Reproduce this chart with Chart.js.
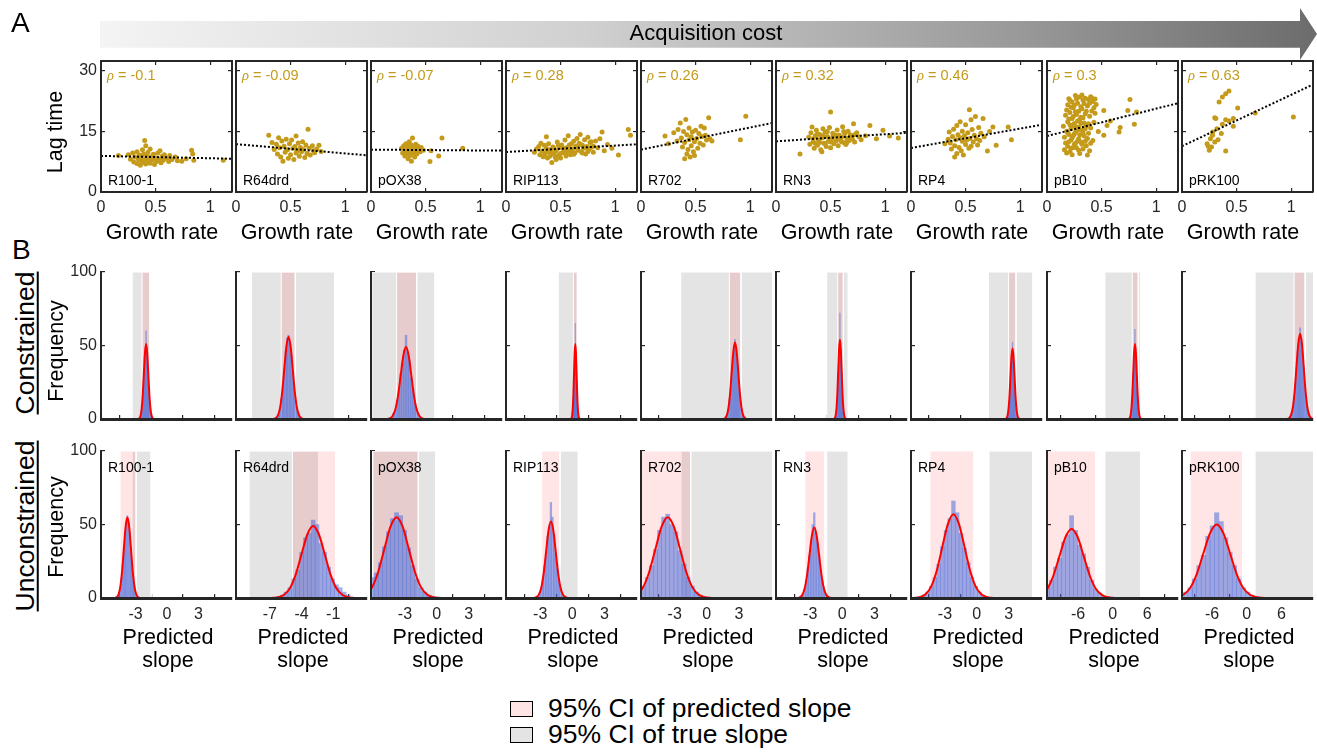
<!DOCTYPE html>
<html><head><meta charset="utf-8">
<script src="https://cdn.jsdelivr.net/npm/chart.js@4.4.1/dist/chart.umd.min.js"></script>
<style>
html,body{margin:0;padding:0;background:#fff;}
#fig{position:relative;width:1317px;height:754px;overflow:hidden;font-family:"Liberation Sans",Arial,sans-serif;color:#000;}
#fig canvas{position:absolute;}
.t{position:absolute;white-space:nowrap;}
</style></head><body><div id="fig"></div>
<script>
// ================= DATA =================
const plasmids = ['R100-1','R64drd','pOX38','RIP113','R702','RN3','RP4','pB10','pRK100'];
const rho = [-0.1,-0.09,-0.07,0.28,0.26,0.32,0.46,0.3,0.63];
const growthMin = 0, growthMax = 1.2;
const lagMin = 0, lagMax = 32.3;
const growthTicks = [0,0.5,1];
const lagTicks = [0,15,30];
const freqTicks = [0,50,100];
const freqMax = 100;
// regression line: lag time at growth rate 0 and at 1.2
const fitStart = [8.9,11.8,10.45,9.86,10.45,12.5,10.85,13.8,11.3];
const fitEnd   = [8.2,9.05,10.2,11.76,17.0,14.6,16.6,21.9,26.5];

const ptsR100_1 = [[0.16,9.0],[0.25,9.2],[0.27,8.1],[0.29,9.6],[0.30,7.4],[0.31,8.6],[0.33,9.9],[0.33,7.0],[0.34,8.2],[0.35,9.1],[0.36,6.6],[0.36,7.8],[0.37,8.7],[0.38,10.4],[0.38,7.3],[0.39,9.4],[0.40,12.7],[0.40,8.0],[0.41,6.9],[0.41,11.4],[0.42,8.9],[0.43,7.6],[0.43,9.8],[0.44,8.3],[0.45,7.1],[0.45,10.6],[0.46,8.7],[0.47,7.9],[0.48,9.3],[0.49,6.8],[0.50,8.4],[0.51,7.5],[0.52,9.6],[0.53,8.1],[0.54,10.2],[0.55,7.2],[0.56,8.8],[0.57,7.8],[0.58,9.2],[0.60,8.3],[0.62,7.5],[0.63,9.0],[0.65,8.0],[0.68,8.6],[0.70,7.7],[0.74,7.6],[0.78,8.2],[0.83,10.3],[0.84,9.4],[0.85,7.8],[1.12,7.8]];
const ptsR64drd = [[0.30,14.0],[0.33,12.2],[0.35,10.5],[0.37,11.8],[0.38,9.4],[0.39,13.4],[0.40,10.9],[0.41,8.6],[0.42,12.6],[0.43,7.6],[0.44,11.3],[0.45,9.8],[0.46,13.0],[0.47,10.4],[0.48,8.3],[0.49,11.9],[0.50,9.2],[0.51,12.8],[0.52,10.7],[0.53,8.0],[0.54,11.2],[0.55,13.8],[0.55,9.6],[0.56,10.1],[0.57,12.1],[0.58,8.8],[0.59,11.0],[0.60,9.9],[0.61,12.4],[0.62,10.5],[0.63,8.5],[0.64,11.6],[0.65,9.5],[0.66,15.5],[0.67,10.8],[0.68,9.1],[0.70,11.4],[0.71,10.2],[0.72,9.7],[0.74,10.6],[0.76,11.5],[0.78,10.0]];
const ptsPOX38 = [[0.28,10.8],[0.29,9.6],[0.30,11.4],[0.31,10.2],[0.31,8.9],[0.32,11.9],[0.33,10.6],[0.33,9.3],[0.34,11.2],[0.34,8.2],[0.35,10.0],[0.35,12.4],[0.36,10.9],[0.36,9.0],[0.37,11.6],[0.37,7.6],[0.38,10.4],[0.38,13.3],[0.39,9.7],[0.39,11.1],[0.40,10.7],[0.40,8.6],[0.41,11.8],[0.42,10.1],[0.42,9.4],[0.43,11.3],[0.44,10.5],[0.45,9.9],[0.46,11.0],[0.48,10.3],[0.54,7.5],[0.55,10.2],[0.62,8.9],[0.65,13.3],[0.84,10.8]];
const ptsRIP113 = [[0.26,9.8],[0.28,10.6],[0.30,11.2],[0.31,9.2],[0.32,12.0],[0.33,10.1],[0.34,8.7],[0.35,11.5],[0.36,9.6],[0.37,13.6],[0.37,10.8],[0.38,8.4],[0.39,11.9],[0.40,9.9],[0.41,10.5],[0.42,7.3],[0.43,11.1],[0.44,9.3],[0.45,8.6],[0.46,10.2],[0.47,12.3],[0.48,9.0],[0.49,10.9],[0.50,8.4],[0.51,11.6],[0.52,9.7],[0.53,10.4],[0.54,12.8],[0.55,8.9],[0.56,11.0],[0.57,13.9],[0.58,10.0],[0.59,9.2],[0.60,11.9],[0.61,10.6],[0.62,12.5],[0.63,9.6],[0.64,11.3],[0.65,13.2],[0.66,10.3],[0.67,12.0],[0.68,14.2],[0.69,9.9],[0.70,11.5],[0.71,10.8],[0.72,12.9],[0.73,9.4],[0.74,11.2],[0.75,13.5],[0.76,10.5],[0.77,12.2],[0.78,11.0],[0.80,9.8],[0.82,12.6],[0.84,10.9],[0.86,13.1],[0.88,14.8],[0.90,10.2],[0.93,11.7],[0.97,10.8],[1.03,9.1],[1.12,15.4],[1.14,14.0],[0.35,9.0],[0.38,10.0],[0.40,8.8],[0.42,9.6],[0.44,10.8],[0.46,8.0],[0.48,11.5],[0.50,9.5],[0.52,10.9],[0.55,9.8],[0.58,11.6],[0.60,10.1],[0.62,9.3],[0.65,10.9],[0.68,11.8],[0.70,9.6],[0.72,11.0],[0.75,10.0],[0.78,12.4],[0.80,11.3]];
const ptsR702 = [[0.22,13.8],[0.25,11.9],[0.30,14.6],[0.33,12.6],[0.34,15.4],[0.36,17.0],[0.37,13.3],[0.38,11.1],[0.39,14.9],[0.40,8.2],[0.40,12.2],[0.41,17.9],[0.42,9.4],[0.42,14.1],[0.43,10.5],[0.44,12.9],[0.44,15.8],[0.45,8.6],[0.46,13.6],[0.46,11.4],[0.47,14.8],[0.48,9.9],[0.49,9.0],[0.49,12.4],[0.50,15.2],[0.51,13.2],[0.52,10.8],[0.53,14.4],[0.54,12.0],[0.55,16.2],[0.56,13.7],[0.57,11.6],[0.58,15.8],[0.59,14.0],[0.60,12.8],[0.62,18.3],[0.63,13.1],[0.65,12.6],[0.91,12.9],[0.96,18.7]];
const ptsRN3 = [[0.22,9.4],[0.30,13.5],[0.31,11.8],[0.32,14.6],[0.33,16.0],[0.34,12.4],[0.35,10.8],[0.36,13.9],[0.37,15.2],[0.38,11.5],[0.39,12.9],[0.40,14.2],[0.41,10.4],[0.42,9.9],[0.42,13.3],[0.43,15.6],[0.44,12.0],[0.45,14.8],[0.46,11.2],[0.47,13.7],[0.48,12.5],[0.49,15.9],[0.50,19.7],[0.50,10.9],[0.51,13.0],[0.52,14.5],[0.53,11.9],[0.54,13.8],[0.55,12.6],[0.56,15.3],[0.57,11.4],[0.58,14.0],[0.59,12.8],[0.60,13.5],[0.61,16.1],[0.62,12.2],[0.63,14.4],[0.64,11.7],[0.65,13.2],[0.66,15.0],[0.67,12.7],[0.68,14.1],[0.70,13.0],[0.71,16.8],[0.72,12.3],[0.74,14.6],[0.76,13.6],[0.78,12.9],[0.82,13.9],[0.86,16.4],[0.92,13.1],[0.98,15.2],[1.04,13.8],[1.12,13.3],[0.34,13.1],[0.36,12.0],[0.38,14.3],[0.40,12.2],[0.43,13.9],[0.45,11.9],[0.47,14.9],[0.50,12.3],[0.52,13.6],[0.55,14.0],[0.57,13.1],[0.60,12.4],[0.62,14.9],[0.65,12.2],[0.68,13.4],[0.72,14.1]];
const ptsRP4 = [[0.31,11.9],[0.34,13.0],[0.35,14.8],[0.36,12.1],[0.37,10.6],[0.38,13.7],[0.39,15.5],[0.40,8.6],[0.40,11.4],[0.41,12.9],[0.42,16.4],[0.42,9.5],[0.43,14.1],[0.44,11.0],[0.45,13.4],[0.45,17.3],[0.46,10.2],[0.47,12.5],[0.47,15.0],[0.48,9.1],[0.49,13.9],[0.50,11.7],[0.50,16.6],[0.51,12.8],[0.52,14.6],[0.53,10.8],[0.535,20.3],[0.54,13.2],[0.55,17.8],[0.55,11.3],[0.56,15.4],[0.57,12.3],[0.58,14.0],[0.59,18.6],[0.60,13.1],[0.61,11.6],[0.62,15.9],[0.63,12.7],[0.64,14.5],[0.66,18.1],[0.67,13.6],[0.70,10.1],[0.72,14.9],[0.75,16.0],[0.78,11.5],[0.89,16.0],[0.92,12.9]];
const ptsPB10 = [[0.15,16.2],[0.16,13.5],[0.16,10.4],[0.17,18.9],[0.17,12.1],[0.18,15.0],[0.18,9.6],[0.19,21.5],[0.19,17.3],[0.19,11.3],[0.20,14.2],[0.20,23.0],[0.21,16.6],[0.21,10.0],[0.21,19.6],[0.22,12.8],[0.22,15.6],[0.23,22.2],[0.23,18.1],[0.23,9.2],[0.24,13.9],[0.24,20.8],[0.25,16.9],[0.25,11.7],[0.26,23.8],[0.26,14.7],[0.27,19.1],[0.27,10.9],[0.28,17.5],[0.28,21.9],[0.29,13.1],[0.29,15.9],[0.30,23.4],[0.30,9.5],[0.31,18.4],[0.31,12.3],[0.32,20.5],[0.32,15.2],[0.33,22.6],[0.33,10.6],[0.34,17.0],[0.34,13.8],[0.35,23.1],[0.35,19.3],[0.36,11.4],[0.36,16.3],[0.37,21.2],[0.37,9.1],[0.38,14.5],[0.38,22.8],[0.39,18.7],[0.39,10.2],[0.40,23.5],[0.40,15.8],[0.41,20.0],[0.42,12.7],[0.42,22.3],[0.43,17.2],[0.44,19.4],[0.45,21.6],[0.47,14.9],[0.52,14.0],[0.52,20.1],[0.55,16.4],[0.58,17.5],[0.66,14.8],[0.67,15.9],[0.74,20.1],[0.76,22.8],[0.80,16.7],[0.82,19.7],[0.18,20.2],[0.19,14.6],[0.20,12.4],[0.20,18.0],[0.21,22.6],[0.22,10.8],[0.22,20.9],[0.23,13.4],[0.23,16.2],[0.24,18.6],[0.24,11.0],[0.25,21.4],[0.25,14.3],[0.26,19.8],[0.26,12.0],[0.27,16.0],[0.27,22.9],[0.28,12.6],[0.28,15.2],[0.29,19.9],[0.29,10.3],[0.30,17.8],[0.30,14.1],[0.31,21.0],[0.31,16.9],[0.32,11.8],[0.32,23.9],[0.33,14.7],[0.33,18.3],[0.34,21.8],[0.35,12.5],[0.35,15.6],[0.36,19.9],[0.37,13.2],[0.38,16.8],[0.39,21.9],[0.40,12.0],[0.41,23.2],[0.43,20.8],[0.44,22.9]];
const ptsPRK100 = [[0.43,24.9],[0.40,24.2],[0.37,23.4],[0.34,22.2],[0.31,18.1],[0.30,18.3],[0.51,20.7],[0.47,18.1],[0.40,17.8],[0.37,16.7],[0.47,16.2],[0.28,14.8],[0.36,14.4],[0.23,11.9],[0.30,12.3],[0.25,10.3],[0.27,11.1],[0.40,10.1],[0.67,19.5],[1.02,18.5],[0.43,17.5],[0.32,15.6],[0.28,14.0],[0.26,13.1],[0.33,12.9],[0.24,11.3]];
const scatterSets = [ptsR100_1,ptsR64drd,ptsPOX38,ptsRIP113,ptsR702,ptsRN3,ptsRP4,ptsPB10,ptsPRK100];

// predicted-slope axes
const slopeMin = [-6.3,-10.2,-6.2,-6.2,-6.15,-6.2,-6.2,-11.4,-11.2];
const slopeMax = [6.2,2.2,6.15,6.05,6.1,6.05,6.15,11.35,11.45];
const slopeTicks = [[-3,0,3],[-7,-4,-1],[-3,0,3],[-3,0,3],[-3,0,3],[-3,0,3],[-3,0,3],[-6,0,6],[-6,0,6]];

// 95% CIs
const trueCIcon = [[-3.33,-1.62],[-8.73,-0.85],[-6.12,-0.16],[-1.31,0.50],[-2.43,6.4],[-1.46,0.56],[1.10,5.30],[-1.34,4.87],[1.44,11.7]];
const predCIcon = [[-2.38,-1.62],[-5.92,-4.59],[-3.79,-1.89],[0.10,0.47],[2.11,3.20],[-0.43,0.10],[3.00,3.70],[3.41,4.45],[8.18,10.09]];
const trueCIunc = [[-3.33,-1.52],[-8.96,-2.37],[-6.03,-0.10],[-1.15,0.56],[-2.40,6.4],[-1.46,0.56],[1.16,5.27],[-1.34,4.87],[1.44,11.7]];
const predCIunc = [[-4.48,-2.95],[-4.86,-0.76],[-6.03,-1.74],[-2.87,-1.15],[-6.4,-1.50],[-3.50,-1.62],[-4.42,-0.26],[-11.6,-2.90],[-9.80,-0.70]];

// constrained histograms (first bin centre, bin width, counts)
const histStartCon = [-2.63,-6.43,-4.40,-0.08,1.71,-0.70,2.80,2.95,7.33];
const histBinCon = [0.07,0.133,0.167,0.04,0.103,0.053,0.063,0.103,0.21];
const cntConR100_1 = [0,1,3,7,13,20,32,42,47,60,49,40,30,22,12,7,3,1,0];
const cntConR64drd = [1,2,3,8,14,22,35,46,55,57,52,44,33,24,13,8,4,2,1];
const cntConPOX38 = [1,1,4,6,13,19,31,38,47,57,45,40,28,21,11,7,3,1,0];
const cntConRIP113 = [0,1,3,7,12,21,30,42,50,65,47,40,31,20,13,6,3,2,0];
const cntConR702 = [0,2,3,7,14,21,30,43,50,54,49,41,32,20,13,7,3,1,1];
const cntConRN3 = [1,1,4,7,13,22,33,43,51,72,50,44,32,23,13,7,3,2,0];
const cntConRP4 = [0,1,3,6,12,20,29,38,46,52,45,39,29,19,12,7,3,1,0];
const cntConPB10 = [1,2,3,7,12,21,31,40,47,61,48,41,30,22,12,7,4,1,0];
const cntConPRK100 = [1,2,4,8,14,24,35,46,55,62,54,46,36,23,15,8,4,2,1];
const countsCon = [cntConR100_1,cntConR64drd,cntConPOX38,cntConRIP113,cntConR702,cntConRN3,cntConRP4,cntConPB10,cntConPRK100];

// constrained fitted curves (first x, x step, frequency values)
const curveStartCon = [-2.735,-6.63,-4.65,-0.14,1.555,-0.78,2.705,2.795,7.015];
const curveStepCon = [0.105,0.2,0.25,0.06,0.155,0.08,0.095,0.155,0.315];
const crvConR100_1 = [0.1,0.6,2.2,6.9,16.6,31,45,51,45,31,16.6,6.9,2.2,0.6,0.1];
const crvConR64drd = [0.1,0.6,2.5,7.6,18.2,34,49.4,56,49.4,34,18.2,7.6,2.5,0.6,0.1];
const crvConPOX38 = [0.1,0.5,2.2,6.6,15.9,29.7,43.2,49,43.2,29.7,15.9,6.6,2.2,0.5,0.1];
const crvConRIP113 = [0.1,0.6,2.2,6.9,16.6,31,45,51,45,31,16.6,6.9,2.2,0.6,0.1];
const crvConR702 = [0.1,0.6,2.3,7,16.9,31.6,45.9,52,45.9,31.6,16.9,7,2.3,0.6,0.1];
const crvConRN3 = [0.1,0.6,2.4,7.3,17.6,32.8,47.6,54,47.6,32.8,17.6,7.3,2.4,0.6,0.1];
const crvConRP4 = [0.1,0.5,2.1,6.5,15.6,29.1,42.3,48,42.3,29.1,15.6,6.5,2.1,0.5,0.1];
const crvConPB10 = [0.1,0.6,2.2,6.9,16.6,31,45,51,45,31,16.6,6.9,2.2,0.6,0.1];
const crvConPRK100 = [0.1,0.6,2.6,7.8,18.9,35.2,51.2,58,51.2,35.2,18.9,7.8,2.6,0.6,0.1];
const curvesCon = [crvConR100_1,crvConR64drd,crvConPOX38,crvConRIP113,crvConR702,crvConRN3,crvConRP4,crvConPB10,crvConPRK100];

// unconstrained histograms
const histStartUnc = [-4.80,-6.20,-6.09,-3.35,-5.95,-3.97,-5.35,-11.33,-10.57];
const histBinUnc = [0.113,0.367,0.383,0.15,0.383,0.15,0.35,0.7,0.767];
const cntUncR100_1 = [1,2,4,7,14,23,33,44,52,56,51,45,34,22,13,8,3,2,0];
const cntUncR64drd = [1,2,4,7,13,19,31,41,44,53,50,37,31,21,13,9,7,4,2];
const cntUncPOX38 = [14,17,24,35,45,54,58,56,46,34,22,13,7,4,2,1];
const cntUncRIP113 = [0,1,3,7,13,22,31,42,49,65,55,43,30,20,13,7,3,1,1];
const cntUncR702 = [8,14,22,33,46,55,57,50,45,32,23,14,8,4,2,1];
const cntUncRN3 = [0,1,3,6,12,20,29,39,50,58,44,38,29,19,12,7,3,2,1];
const cntUncRP4 = [1,2,4,8,14,23,35,46,54,66,58,44,34,24,14,8,4,2,1];
const cntUncPB10 = [7,12,21,27,38,43,56,46,36,30,21,12,6,3,1,1];
const cntUncPRK100 = [4,7,13,22,29,42,49,58,52,41,31,22,13,7,4,2,1];
const countsUnc = [cntUncR100_1,cntUncR64drd,cntUncPOX38,cntUncRIP113,cntUncR702,cntUncRN3,cntUncRP4,cntUncPB10,cntUncPRK100];

// unconstrained fitted curves
const curveStartUnc = [-4.97,-6.75,-7.815,-3.575,-7.675,-4.195,-5.875,-14.48,-13.25];
const curveStepUnc = [0.17,0.55,0.575,0.225,0.575,0.225,0.525,1.05,1.15];
const crvUncR100_1 = [0.1,0.6,2.4,7.4,17.9,33.4,48.5,55,48.5,33.4,17.9,7.4,2.4,0.6,0.1];
const crvUncR64drd = [0.1,0.5,2.2,6.6,15.9,29.7,43.2,49,43.2,29.7,15.9,6.6,2.2,0.5,0.1];
const crvUncPOX38 = [0.1,0.6,2.4,7.4,17.9,33.4,48.5,55,48.5,33.4,17.9,7.4,2.4,0.6,0.1];
const crvUncRIP113 = [0.1,0.6,2.3,7,16.9,31.6,45.9,52,45.9,31.6,16.9,7,2.3,0.6,0.1];
const crvUncR702 = [0.1,0.6,2.4,7.4,17.9,33.4,48.5,55,48.5,33.4,17.9,7.4,2.4,0.6,0.1];
const crvUncRN3 = [0.1,0.5,2.1,6.5,15.6,29.1,42.3,48,42.3,29.1,15.6,6.5,2.1,0.5,0.1];
const crvUncRP4 = [0.1,0.6,2.5,7.7,18.5,34.6,50.3,57,50.3,34.6,18.5,7.7,2.5,0.6,0.1];
const crvUncPB10 = [0.1,0.5,2.1,6.3,15.3,28.5,41.5,47,41.5,28.5,15.3,6.3,2.1,0.5,0.1];
const crvUncPRK100 = [0.1,0.6,2.2,6.8,16.3,30.4,44.1,50,44.1,30.4,16.3,6.8,2.2,0.6,0.1];
const curvesUnc = [crvUncR100_1,crvUncR64drd,crvUncPOX38,crvUncRIP113,crvUncR702,crvUncRN3,crvUncRP4,crvUncPB10,crvUncPRK100];

// ================= LAYOUT / STYLE =================
const colLeft = [101,236,371,506,641,776,911,1047,1182];
const PW = 131;
const TOP_Y = 61, TOP_H = 131;
const CON_Y = 272, UNC_Y = 451, HIST_H = 147;
const ML = 44, MR = 6, MT = 12, MB = 32, MB_MID = 6;
const INK = '#262626';
const GOLD = '#c49a1a';
const BLUE = 'rgba(60,100,220,0.5)';
const PINK = 'rgba(255,0,0,0.1)';
const GRAY = '#e4e4e4';
const FONT = '"Liberation Sans", Arial, Helvetica, sans-serif';
Chart.defaults.font.family = FONT;

const fig = document.getElementById('fig');
function makeCanvas(left, top, w, h) {
  const c = document.createElement('canvas');
  c.width = w; c.height = h;
  c.style.left = left + 'px'; c.style.top = top + 'px';
  c.style.width = w + 'px'; c.style.height = h + 'px';
  fig.appendChild(c);
  return c;
}
function fixedTicks(vals) { return s => { s.ticks = vals.map(v => ({value: v})); }; }
function fitSize(prop, val) {
  return s => { s[prop] = val; s.paddingLeft = 0; s.paddingRight = 0; s.paddingTop = 0; s.paddingBottom = 0; };
}
function gridIn(len) {
  return {display: true, drawOnChartArea: false, drawTicks: true, tickLength: -len, color: INK, lineWidth: 1.2};
}
function borderCfg(w) { return {display: true, color: INK, width: w, z: 1}; }
const tickFont = {family: FONT, size: 16};
const baseOpts = {
  responsive: false, animation: false, devicePixelRatio: 1, events: [],
  plugins: {legend: {display: false}, tooltip: {enabled: false}}
};

// ---------- Row A: scatter panels ----------
function topPanel(i) {
  const L = colLeft[i];
  const c = makeCanvas(L - ML, TOP_Y - MT, ML + PW + MR, MT + TOP_H + MB);
  new Chart(c, {
    type: 'scatter',
    data: {datasets: [
      {type: 'line', data: [{x: growthMin, y: fitStart[i]}, {x: growthMax, y: fitEnd[i]}],
       borderColor: '#000', borderWidth: 2, borderDash: [2, 2], pointRadius: 0, order: 0},
      {type: 'scatter', data: scatterSets[i].map(p => ({x: p[0], y: p[1]})),
       backgroundColor: GOLD, borderWidth: 0, pointRadius: 2.5, order: 1}
    ]},
    options: Object.assign({}, baseOpts, {
      layout: {padding: 0},
      scales: {
        x: {type: 'linear', position: 'bottom', min: growthMin, max: growthMax,
            afterBuildTicks: fixedTicks(growthTicks), afterFit: fitSize('height', MB),
            grid: gridIn(4), border: borderCfg(2),
            ticks: {font: tickFont, color: INK, padding: 10, maxRotation: 0, autoSkip: false, callback: v => String(v)}},
        x2: {type: 'linear', position: 'top', min: growthMin, max: growthMax,
            afterBuildTicks: fixedTicks(growthTicks), afterFit: fitSize('height', MT),
            grid: gridIn(4), border: borderCfg(2), ticks: {display: false}},
        y: {type: 'linear', position: 'left', min: lagMin, max: lagMax,
            afterBuildTicks: fixedTicks(lagTicks), afterFit: fitSize('width', ML),
            grid: gridIn(4), border: borderCfg(2),
            ticks: {display: i === 0, font: tickFont, color: INK, padding: 8, callback: v => String(v)}},
        y2: {type: 'linear', position: 'right', min: lagMin, max: lagMax,
            afterBuildTicks: fixedTicks(lagTicks), afterFit: fitSize('width', MR),
            grid: gridIn(4), border: borderCfg(2), ticks: {display: false}}
      }
    })
  });
}

// ---------- Row B: histogram panels ----------
function histData(start, bin, counts) { return counts.map((v, k) => ({x: start + k * bin, y: v})); }
function curveData(start, step, ys) { return ys.map((v, k) => ({x: start + k * step, y: v})); }
function boxData(ci) { return [{x: ci[0], y: 0}, {x: ci[0], y: freqMax}, {x: ci[1], y: freqMax}, {x: ci[1], y: 0}]; }

function histPanel(i, unc) {
  const L = colLeft[i];
  const top = unc ? UNC_Y : CON_Y;
  const mb = unc ? MB : MB_MID;
  const c = makeCanvas(L - ML, top - MT, ML + PW + MR, MT + HIST_H + mb);
  const tci = unc ? trueCIunc[i] : trueCIcon[i];
  const pci = unc ? predCIunc[i] : predCIcon[i];
  const hd = unc ? histData(histStartUnc[i], histBinUnc[i], countsUnc[i]) : histData(histStartCon[i], histBinCon[i], countsCon[i]);
  const cd = unc ? curveData(curveStartUnc[i], curveStepUnc[i], curvesUnc[i]) : curveData(curveStartCon[i], curveStepCon[i], curvesCon[i]);
  new Chart(c, {
    type: 'bar',
    data: {datasets: [
      {type: 'line', data: cd, borderColor: '#ff0000', borderWidth: 2, pointRadius: 0,
       cubicInterpolationMode: 'monotone', fill: false, order: 0},
      {type: 'bar', data: hd, backgroundColor: BLUE, borderWidth: 0,
       barPercentage: 1, categoryPercentage: 1, grouped: false, order: 1},
      {type: 'line', data: boxData(pci), fill: 'origin', backgroundColor: PINK,
       borderColor: '#ffffff', borderWidth: 1, pointRadius: 0, order: 2},
      {type: 'line', data: boxData(tci), fill: 'origin', backgroundColor: GRAY,
       borderColor: '#ffffff', borderWidth: 1, pointRadius: 0, order: 3}
    ]},
    options: Object.assign({}, baseOpts, {
      layout: {padding: {top: MT, right: MR, left: 0, bottom: 0}},
      scales: {
        x: {type: 'linear', position: 'bottom', offset: false, min: slopeMin[i], max: slopeMax[i],
            afterBuildTicks: fixedTicks(slopeTicks[i]), afterFit: fitSize('height', mb),
            grid: gridIn(4), border: borderCfg(3),
            ticks: {display: unc, font: tickFont, color: INK, padding: 11, maxRotation: 0, autoSkip: false, callback: v => String(v)}},
        y: {type: 'linear', position: 'left', min: 0, max: freqMax,
            afterBuildTicks: fixedTicks(freqTicks), afterFit: fitSize('width', ML),
            grid: gridIn(4), border: borderCfg(2),
            ticks: {display: i === 0, font: tickFont, color: INK, padding: 8, callback: v => String(v)}}
      }
    })
  });
}

for (let i = 0; i < plasmids.length; i++) {
  topPanel(i);
  histPanel(i, false);
  histPanel(i, true);
}

// ---------- Text & decorations ----------
function addText(html, x, base, size, o) {
  o = o || {};
  const d = document.createElement('div');
  d.className = 't';
  d.innerHTML = html;
  d.style.fontSize = size + 'px';
  d.style.lineHeight = size + 'px';
  d.style.top = (base - 0.846 * size) + 'px';
  d.style.left = x + 'px';
  if (o.center) d.style.transform = 'translateX(-50%)';
  if (o.color) d.style.color = o.color;
  fig.appendChild(d);
  return d;
}
function addVText(html, cx, cy, size, o) {
  o = o || {};
  const d = document.createElement('div');
  d.className = 't';
  d.innerHTML = html;
  d.style.fontSize = size + 'px';
  d.style.lineHeight = size + 'px';
  d.style.left = cx + 'px';
  d.style.top = cy + 'px';
  d.style.transform = 'translate(-50%,-50%) rotate(-90deg)';
  if (o.underline) {
    d.style.textDecoration = 'underline';
    d.style.textDecorationThickness = '2px';
    d.style.textUnderlineOffset = '3px';
  }
  fig.appendChild(d);
  return d;
}

// arrow
const arrow = document.createElement('div');
arrow.style.cssText = 'position:absolute;left:100px;top:8px;width:1217px;height:52px;' +
  'background:linear-gradient(to right,#f4f4f4 0%,#d0d0d0 40%,#9a9a9a 75%,#6c6c6c 100%);' +
  'clip-path:polygon(0px 13px,1200px 13px,1200px 0px,1217px 26px,1200px 52px,1200px 39.7px,0px 39.7px);';
fig.appendChild(arrow);
addText('Acquisition cost', 706, 41, 22, {center: true});

addText('A', 11, 33, 28);
addText('B', 12, 260, 28);

addVText('Lag time', 56, 131.5, 21.5);
addVText('Frequency', 57, 351, 21.5);
addVText('Frequency', 57, 527, 21.5);
addVText('Constrained', 25, 343, 26.5, {underline: true});
addVText('Unconstrained', 25, 526, 26.5, {underline: true});

for (let i = 0; i < plasmids.length; i++) {
  const L = colLeft[i];
  addText('<i style="font-family:\'Liberation Serif\',serif">ρ</i> = ' + rho[i], L + 6, 80.5, 14.5, {color: GOLD});
  addText(plasmids[i], L + 7, 184.5, 14);
  addText(plasmids[i], L + 7, 471.5, 14);
  addText('Growth rate', L + 61, 240, 21.5, {center: true});
  addText('Predicted', L + 67, 645, 21.5, {center: true});
  addText('slope', L + 67, 668, 21.5, {center: true});
}

// legend
function legendBox(top, color) {
  const b = document.createElement('div');
  b.style.cssText = 'position:absolute;left:510px;top:' + top + 'px;width:21px;height:14px;border:1.5px solid #000;background:' + color + ';';
  fig.appendChild(b);
}
legendBox(701, '#ffe4e6');
legendBox(727, '#e4e4e4');
addText('95% CI of predicted slope', 548, 717, 26.5);
addText('95% CI of true slope', 548, 743, 26.5);
</script></body></html>
